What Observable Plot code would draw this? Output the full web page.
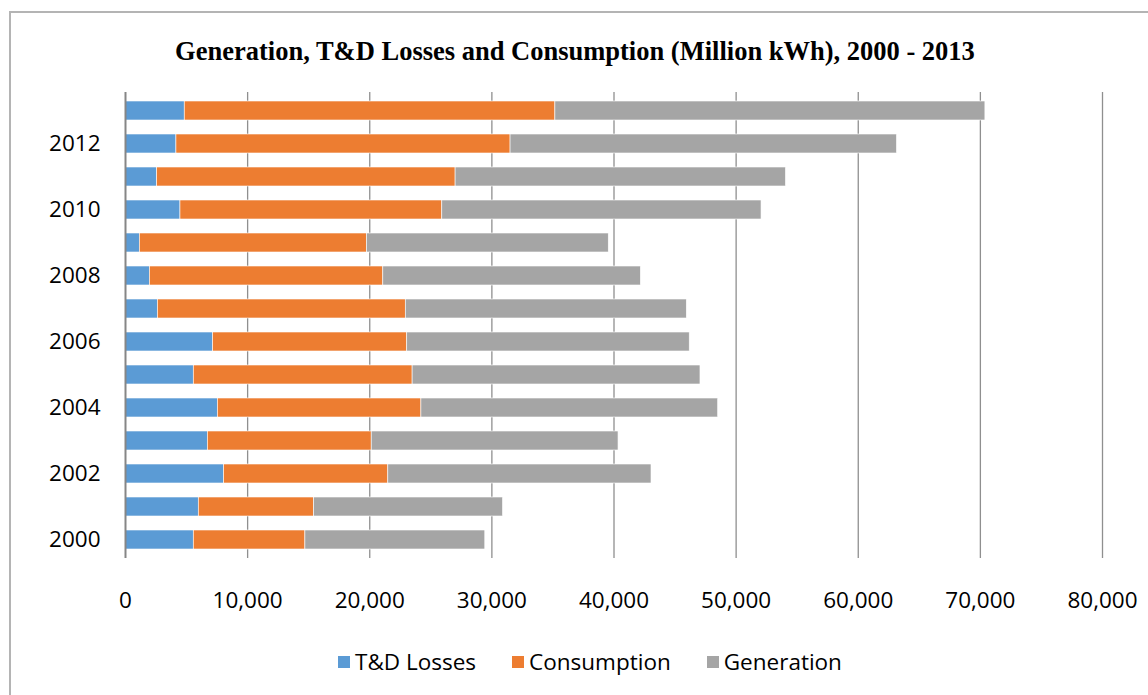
<!DOCTYPE html>
<html>
<head>
<meta charset="utf-8">
<script src="https://cdn.jsdelivr.net/npm/d3@7"></script>
<script src="https://cdn.jsdelivr.net/npm/@observablehq/plot@0.6"></script>
<style>
  html, body { margin: 0; padding: 0; background: #fff; overflow: hidden; }
  #wrap { position: relative; width: 1148px; height: 695px; overflow: hidden; }
  #frame { position: absolute; left: 9px; top: 11px; width: 1300px; height: 900px; border: 2px solid #b4b4b4; box-sizing: border-box; }
  #title { position: absolute; left: 0; width: 1150px; top: 36px; text-align: center; line-height: 1.15;
           font-family: "Liberation Serif", "DejaVu Serif", serif; font-weight: bold; font-size: 26.5px; color: #000; }
  #chart { position: absolute; left: 0; top: 80px; }
  #legend { position: absolute; top: 646px; left: 0; width: 1180px; display: flex; justify-content: center; gap: 0;
            font-family: "Open Sans", sans-serif; font-size: 22.5px; color: #000; }
  .item { display: flex; align-items: center; margin: 0 18px; }
  .sw { width: 12px; height: 12px; margin-right: 5px; }
</style>
</head>
<body>
<div id="wrap">
  <div id="frame"></div>
  <div id="title">Generation, T&amp;D Losses and Consumption (Million kWh), 2000 - 2013</div>
  <div id="chart"></div>
  <div id="legend"></div>
</div>
<script>
const years = [2000, 2001, 2002, 2003, 2004, 2005, 2006, 2007, 2008, 2009, 2010, 2011, 2012, 2013];
const losses = [5590, 6000, 8070, 6740, 7560, 5590, 7170, 2650, 1990, 1170, 4500, 2590, 4170, 4850];
const consumption = [9140, 9440, 13450, 13420, 16670, 17920, 15900, 20300, 19120, 18600, 21440, 24440, 27360, 30350];
const generation = [14730, 15470, 21550, 20210, 24300, 23570, 23130, 23010, 21090, 19800, 26140, 27050, 31640, 35210];
const seriesNames = ["T&D Losses", "Consumption", "Generation"];
const seriesColors = ["#5B9BD5", "#ED7D31", "#A5A5A5"];
const labeledYears = ["2000", "2002", "2004", "2006", "2008", "2010", "2012"];
const xTicks = [0, 10000, 20000, 30000, 40000, 50000, 60000, 70000, 80000];

const seriesValues = [losses, consumption, generation];
const tidy = [];
years.forEach((yr, i) => {
  seriesNames.forEach((s, k) => tidy.push({year: String(yr), series: s, value: seriesValues[k][i]}));
});

const chart = Plot.plot({
  width: 1148,
  height: 545,
  marginLeft: 125,
  marginRight: 46,
  marginTop: 12,
  marginBottom: 67,
  style: {fontFamily: "'Open Sans', sans-serif", fontSize: "22.5px", color: "#000", background: "transparent"},
  x: {domain: [0, 80000]},
  y: {domain: years.map(String).reverse(), paddingInner: 0.43, paddingOuter: 0.215},
  color: {domain: seriesNames, range: seriesColors},
  marks: [
    Plot.gridX(xTicks.slice(1), {stroke: "#8f8f8f", strokeOpacity: 1, strokeWidth: 1.3}),
    Plot.barX(tidy, {x: "value", y: "year", fill: "series", stroke: "#ffffff", strokeWidth: 0.6}),
    Plot.ruleX([0], {stroke: "#868686", strokeWidth: 2}),
    Plot.axisX({ticks: xTicks, tickSize: 0, tickPadding: 34, tickFormat: d3.format(","), label: null, fontSize: 22.5}),
    Plot.axisY({ticks: labeledYears, tickSize: 0, tickPadding: 25, label: null, fontSize: 22.5})
  ]
});
document.getElementById("chart").appendChild(chart);

const legend = document.getElementById("legend");
seriesNames.forEach((s, k) => {
  const it = document.createElement("div");
  it.className = "item";
  const sw = document.createElement("div");
  sw.className = "sw";
  sw.style.background = seriesColors[k];
  const t = document.createElement("span");
  t.textContent = s;
  it.appendChild(sw); it.appendChild(t);
  legend.appendChild(it);
});
</script>
</body>
</html>
